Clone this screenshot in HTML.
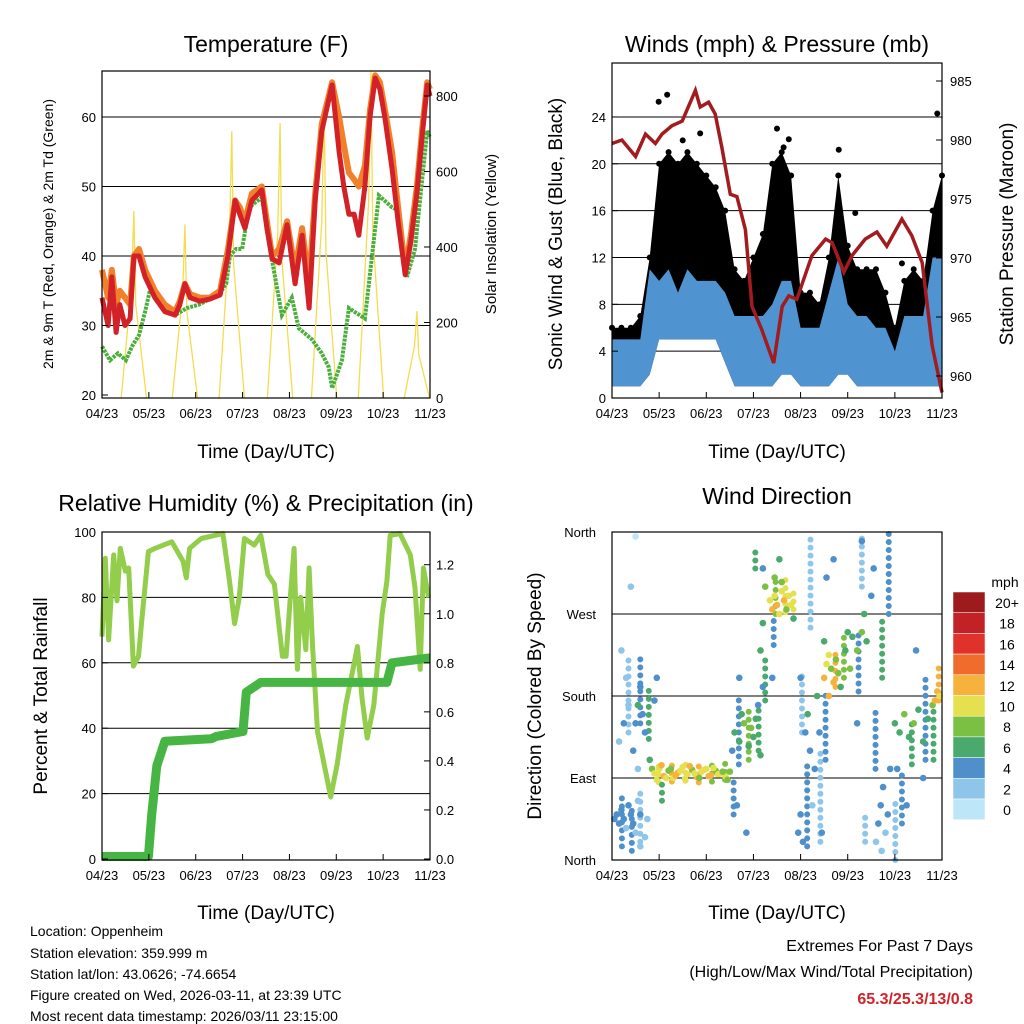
<!DOCTYPE html>
<html><head><meta charset="utf-8"><style>
body{margin:0;background:#fff}
svg{display:block;font-family:"Liberation Sans",sans-serif}
</style></head><body>
<svg id="c" width="1024" height="1024" viewBox="0 0 1024 1024">
<text x="266" y="52" font-size="23" text-anchor="middle">Temperature (F)</text>
<text x="777" y="52" font-size="23" text-anchor="middle">Winds (mph) &amp; Pressure (mb)</text>
<text x="266" y="511" font-size="23" text-anchor="middle">Relative Humidity (%) &amp; Precipitation (in)</text>
<text x="777" y="504" font-size="23" text-anchor="middle">Wind Direction</text>
<text x="266" y="458" font-size="19" text-anchor="middle">Time (Day/UTC)</text>
<text x="777" y="458" font-size="19" text-anchor="middle">Time (Day/UTC)</text>
<text x="266" y="919" font-size="19" text-anchor="middle">Time (Day/UTC)</text>
<text x="777" y="919" font-size="19" text-anchor="middle">Time (Day/UTC)</text>
<text transform="translate(53,234) rotate(-90)" font-size="14" text-anchor="middle">2m &amp; 9m T (Red, Orange) &amp; 2m Td (Green)</text>
<text transform="translate(496,234) rotate(-90)" font-size="15" text-anchor="middle">Solar Insolation (Yellow)</text>
<text transform="translate(562,234) rotate(-90)" font-size="19" text-anchor="middle">Sonic Wind &amp; Gust (Blue, Black)</text>
<text transform="translate(1013,234) rotate(-90)" font-size="19" text-anchor="middle">Station Pressure (Maroon)</text>
<text transform="translate(47,696) rotate(-90)" font-size="19" text-anchor="middle">Percent &amp; Total Rainfall</text>
<text transform="translate(541,696) rotate(-90)" font-size="19" text-anchor="middle">Direction (Colored By Speed)</text>
<g font-size="14">
<text x="30" y="936">Location: Oppenheim</text>
<text x="30" y="958">Station elevation: 359.999 m</text>
<text x="30" y="979">Station lat/lon: 43.0626; -74.6654</text>
<text x="30" y="1000">Figure created on Wed, 2026-03-11, at 23:39 UTC</text>
<text x="30" y="1021">Most recent data timestamp: 2026/03/11 23:15:00</text>
</g>
<g font-size="16" text-anchor="end">
<text x="973" y="951">Extremes For Past 7 Days</text>
<text x="973" y="977">(High/Low/Max Wind/Total Precipitation)</text>
<text x="973" y="1004" fill="#d2232a" font-weight="bold">65.3/25.3/13/0.8</text>
</g>
<text x="1005" y="587" font-size="14" text-anchor="middle">mph</text>
</svg>
<script>
const dayLabels=["04/23","05/23","06/23","07/23","08/23","09/23","10/23","11/23"];
const tempTimes=[0,.13,.21,.30,.38,.49,.60,.68,.79,.92,1.13,1.34,1.56,1.66,1.77,1.88,2.09,2.30,2.52,2.69,2.84,2.94,3.05,3.20,3.41,3.52,3.63,3.78,3.95,4.12,4.27,4.42,4.55,4.69,4.91,5.06,5.16,5.27,5.38,5.48,5.61,5.72,5.83,5.93,6.04,6.19,6.32,6.47,6.59,6.72,6.83,6.94,7];
const tempRed=[34,30,37,29,33,30,31,40,40,37,34,32,31.5,33,36,34,33.5,33.8,34.4,40,48,46,44,48,49.5,44,39.6,39,44.5,36,43,32.5,48,58,64.6,55,50,46,46,43,50,60,65.6,64,59.8,52.6,45,37.3,42,49,57,64.6,63];
const tempOrange=[38,34,38,33,35,34,33,40,41,38,35,33,32,33.5,36,34.5,34,34,35,41,48,47,45,49,50,45,40,41,45,38,44,36,49,59,65,60,56,52,51,50,53,61,66,65,61,55,47,38,43,50,58,65,64];
const tdTimes=[0,.17,.34,.51,.64,.79,.92,1.02,1.24,1.56,1.81,2.07,2.50,2.65,2.73,2.86,2.99,3.14,3.41,3.56,3.84,4.05,4.20,4.48,4.69,4.84,4.91,5.12,5.27,5.61,5.91,6.19,6.34,6.51,6.68,6.94,7];
const tdVals=[27,25,26,25,27,28.6,32,35,33,31.5,32.5,33,34.5,36,40,41,41,47,48.4,42,31.5,34,29.6,28,26,24,21,25,32.5,31,48.7,47,46.5,37,41,58,57];
const solarPeakT=[.68,1.77,2.77,3.80,4.74,5.74,6.72];
const solarPeak=[495,460,707,728,778,866,230];
const presTimes=[0,.21,.50,.71,.92,1.06,1.27,1.49,1.77,1.87,2.05,2.19,2.33,2.51,2.65,2.83,2.97,3.18,3.43,3.61,3.75,3.92,4.24,4.53,4.67,4.92,5.09,5.37,5.62,5.83,6.15,6.36,6.58,6.79,7];
const presVals=[979.7,980,978.6,980.5,979.7,980.5,981.2,981.6,984.2,982.8,983.2,982.2,979.4,975.4,975.2,972.4,965.9,963.9,961.1,965.9,966.8,966.5,970.2,971.6,971.3,968.8,970.2,971.6,972.2,971,973.3,971.9,969.6,962.6,958.6];
const windTimes=[0,.2,.4,.6,.8,1,1.2,1.4,1.6,1.8,2,2.2,2.4,2.6,2.8,3,3.2,3.4,3.6,3.8,4,4.2,4.4,4.6,4.8,5,5.2,5.4,5.6,5.8,6,6.2,6.4,6.6,6.8,7];
const gustHi=[6,6,6,7,12,20,21,20,21,20,19,18,16,11,10,12,14,20,21,19,9,9,8,12,19,13,11,11,11,9,6,10,11,10,16,19];
const windHi=[5,5,5,5,11,10,11,9,11,10,10,10,9,7,7,7,7,8,10,10,6,6,6,9,12,8,7,7,6,6,4,7,7,7,12,12];
const windLo=[1,1,1,1,2,5,5,5,5,5,5,5,3,1,1,1,1,1,2,2,1,1,1,1,2,2,1,1,1,1,1,1,1,1,1,1];
const gustDotT=[.99,1.17,1.87,3.64,3.75,4.81,5.16,6.15,6.9,1.5,2.1,3.5];
const gustDotV=[25.3,25.9,22.6,21.4,22.1,21.2,15.8,11.5,24.3,22,18,23];
const rhTimes=[0,.07,.14,.25,.32,.39,.50,.57,.67,.78,.85,.99,1.13,1.49,1.73,1.80,1.87,2.12,2.58,2.72,2.83,2.93,3.04,3.25,3.39,3.54,3.68,3.85,3.93,4.03,4.10,4.17,4.24,4.35,4.42,4.49,4.60,4.74,4.88,5.02,5.20,5.37,5.45,5.55,5.66,5.80,5.98,6.08,6.15,6.36,6.58,6.68,6.79,6.86,6.97];
const rhVals=[68,92,67,93,79,95,88,89,59,62,73,94,95,97,91,86,95,98,99.5,85,72,80,98,96,99,87,84,62,62,82,95,58,80,64,89,66,39,29,19,29,47,59,65,49,37,47,75,85,99,99.5,93,83,58,89,80];
const precipTimes=[0,.99,1.06,1.17,1.34,2.33,2.44,3.01,3.08,3.39,6.08,6.19,7];
const precipVals=[.01,.01,.18,.38,.48,.49,.50,.52,.68,.72,.72,.80,.82];
const dirTime=[.05,.1,.15,.2,.25,.3,.35,.4,.45,.5,.55,.6,.7,.75,.15,.25,.35,.45,.55,.6,.3,.2,.4,.5,
.5,.55,.6,.65,.7,.8,.85,.9,.95,
.9,1,1.1,1.2,1.3,1.4,1.5,1.6,1.7,1.8,1.9,2,2.1,2.2,2.3,2.4,2.5,.95,1.05,1.15,1.25,1.35,1.45,1.55,1.65,1.75,1.85,1.95,2.05,2.15,2.25,2.35,2.45,
2.55,2.6,2.7,2.75,2.8,2.9,2.95,3,3.05,3.1,3.15,2.65,2.85,2.7,3.2,
3.15,3.2,3.25,3.2,
3.35,3.4,3.45,3.5,3.55,3.6,3.65,3.7,3.75,3.8,3.45,3.6,3.85,3.55,3.4,
3.95,4,4.05,4.1,4.15,4.2,4.25,4.3,4.35,4.4,4.45,4,
4.5,4.55,4.6,4.65,4.7,4.75,4.8,4.85,4.6,4.5,4.55,4.7,
4.95,5,5.05,5.1,5.2,5.3,5.35,5.4,5.5,5.55,5.2,5.3,
5.6,5.65,5.7,5.72,5.75,5.8,5.85,5.9,
6,6.1,6.2,6.3,6.4,6.5,6.6,6.7,6.8,6.85,6.9,6.95,6.05,6.25,6.45,6.6];
const dirDeg=[45,50,40,55,45,35,60,50,40,30,65,50,25,45,130,150,170,120,100,15,200,230,300,355,
150,170,190,160,140,110,100,175,200,
95,100,92,98,90,96,102,94,99,91,97,100,93,98,95,92,97,88,104,90,100,93,98,89,103,95,90,99,92,101,94,97,88,
120,140,130,160,150,125,145,135,155,170,115,60,30,200,190,
230,260,300,320,
285,275,290,280,270,295,285,275,290,280,310,305,265,330,200,
30,50,20,140,160,120,60,100,180,140,30,200,
200,215,225,210,195,220,205,190,180,240,310,330,
230,250,210,245,230,250,270,240,290,320,150,350,
20,40,60,10,80,30,50,100,
150,140,160,135,150,165,130,155,170,175,185,180,100,60,230,90];
const dirSpeed=[3,4,3,3,4,2,3,4,3,2,2,3,2,2,2,3,2,3,2,1,2,1,1,0,
4,5,4,3,4,6,8,4,3,
10,9,11,8,10,12,9,10,8,11,9,10,12,8,9,10,7,9,11,10,8,12,9,10,11,9,8,10,12,9,10,8,7,
4,5,6,5,7,6,8,6,5,4,6,3,4,3,4,
6,5,7,4,
10,11,9,12,10,9,11,8,10,9,7,8,6,6,4,
3,4,3,4,5,3,2,4,5,4,3,3,
12,10,9,8,11,7,7,6,11,6,3,3,
6,5,7,6,8,7,6,5,4,3,4,3,
2,3,3,1,4,2,3,4,
6,5,7,6,8,5,6,5,7,12,11,10,4,3,4,3];
const streakT=[.21,.42,.60,.35,.60,.78,.99,1.27,1.56,1.84,2.12,2.40,1.06,2.58,2.69,2.90,3.11,3.25,3.04,3.47,3.68,3.85,3.43,4.21,4.03,4.14,4.42,4.53,4.74,4.92,5.23,5.37,5.30,5.59,5.73,5.87,6.01,6.15,6.36,6.65,6.82,6.93];
const streakLo=[15,10,20,140,150,133,85,86,87,85,86,88,65,50,105,110,120,175,320,270,272,275,236,255,140,15,20,110,190,200,185,20,300,100,200,270,0,40,105,110,110,175];
const streakHi=[70,60,80,225,225,188,108,110,106,108,104,108,90,90,180,170,170,220,345,310,308,300,269,360,205,110,120,185,230,250,255,55,360,165,265,360,70,100,150,200,170,215];
const streakSpeed=[4,3,2,2,4,6,10,11,9,12,8,7,6,4,4,7,6,6,6,8,9,10,4,2,2,3,2,3,12,8,4,2,2,4,6,4,2,3,6,3,6,12];
const cbLabels=["20+","18","16","14","12","10","8","6","4","2","0"];
const cbColors=["#9d1a1d","#c22126","#e0322b","#f06c2c","#f6b23c","#e5e050","#7cc043","#4aa96c","#4f90cb","#8ec5ea","#bde6f8"];

const S=document.getElementById('c');const NS='http://www.w3.org/2000/svg';
function mk(tag,attrs,name){const el=document.createElementNS(NS,tag);for(const k in attrs)el.setAttribute(k,attrs[k]);


S.appendChild(el);return el;}
function txt(x,y,s,anchor,name,size){const t=mk('text',{x:x,y:y,'font-size':size||13,'text-anchor':anchor},name);t.textContent=s;return t;}
function pts(xs,ys,fx,fy){return xs.map((t,i)=>fx(t).toFixed(1)+','+fy(ys[i]).toFixed(1)).join(' ');}
function xAxis(x0,x1,yb,fx,name){dayLabels.forEach((l,i)=>{const x=fx(i);mk('line',{x1:x,x2:x,y1:yb,y2:yb-6,stroke:'#000'},name+'-tick');txt(x,yb+20,l,'middle',name+'-label');});}
function frame(x0,y0,x1,y1,name){mk('rect',{x:x0,y:y0,width:x1-x0,height:y1-y0,fill:'none',stroke:'#000','stroke-width':1.2},name);}

// Temperature
{const X0=102,X1=430,Y0=71,Y1=398;const fx=t=>X0+t/7*(X1-X0);const fy=v=>395-(v-20)*6.95;const fs=v=>398-v*0.3775;
[30,40,50,60].forEach(v=>mk('line',{x1:X0,x2:X1,y1:fy(v),y2:fy(v),stroke:'#000'},'temp-gridline'));
solarPeakT.forEach((t,i)=>{mk('polyline',{points:`${fx(t-.27)},${fs(0)} ${fx(t-.05)},${fs(solarPeak[i]*0.6)} ${fx(t)},${fs(solarPeak[i])} ${fx(t+.04)},${fs(solarPeak[i]*0.5)} ${fx(t+.27)},${fs(0)}`,fill:'none',stroke:'#f4dc50','stroke-width':1.3},'solar-spike');});
mk('polyline',{points:pts(tdTimes,tdVals,fx,fy),fill:'none',stroke:'#4cae3c','stroke-width':4,'stroke-dasharray':'3 1'},'dewpoint-line');
mk('polyline',{points:pts(tempTimes,tempOrange,fx,fy),fill:'none',stroke:'#f27f29','stroke-width':6,'stroke-linejoin':'round'},'temp-9m-line');
mk('polyline',{points:pts(tempTimes,tempRed,fx,fy),fill:'none',stroke:'#d22127','stroke-width':5,'stroke-linejoin':'round'},'temp-2m-line');
frame(X0,Y0,X1,Y1,'temp-plot-frame');xAxis(X0,X1,Y1,fx,'temp-x');
[20,30,40,50,60].forEach(v=>{mk('line',{x1:X0,x2:X0+6,y1:fy(v),y2:fy(v),stroke:'#000'},'temp-y-tick');txt(X0-6,fy(v)+5,v,'end','temp-y-label');});
[0,200,400,600,800].forEach(v=>{mk('line',{x1:X1,x2:X1-6,y1:fs(v),y2:fs(v),stroke:'#000'},'solar-y-tick');txt(X1+6,fs(v)+5,v,'start','solar-y-label');});}

// Winds
{const X0=612,X1=942,Y0=63,Y1=398;const fx=t=>X0+t/7*(X1-X0);const fy=v=>398-v*11.71;const fp=v=>376-(v-960)*11.8;
[4,8,12,16,20,24].forEach(v=>mk('line',{x1:X0,x2:X1,y1:fy(v),y2:fy(v),stroke:'#000'},'wind-gridline'));
mk('polygon',{points:pts(windTimes,gustHi,fx,fy)+' '+pts(windTimes.slice().reverse(),windLo.slice().reverse(),fx,fy),fill:'#000'},'gust-band');
windTimes.forEach((t,i)=>{mk('circle',{cx:fx(t),cy:fy(gustHi[i]),r:3,fill:'#000'},'gust-point');});
gustDotT.forEach((t,i)=>{mk('circle',{cx:fx(t),cy:fy(gustDotV[i]),r:3,fill:'#000'},'gust-outlier');});
mk('polygon',{points:pts(windTimes,windHi,fx,fy)+' '+pts(windTimes.slice().reverse(),windLo.slice().reverse(),fx,fy),fill:'#4f94d0'},'wind-band');
mk('polyline',{points:pts(presTimes,presVals,fx,fp),fill:'none',stroke:'#a21c1f','stroke-width':3.5},'pressure-line');
frame(X0,Y0,X1,Y1,'winds-plot-frame');xAxis(X0,X1,Y1,fx,'winds-x');
[0,4,8,12,16,20,24].forEach(v=>{mk('line',{x1:X0,x2:X0+6,y1:fy(v),y2:fy(v),stroke:'#000'},'wind-y-tick');txt(X0-6,fy(v)+5,v,'end','wind-y-label');});
[960,965,970,975,980,985].forEach(v=>{mk('line',{x1:X1,x2:X1-6,y1:fp(v),y2:fp(v),stroke:'#000'},'pressure-y-tick');txt(X1+8,fp(v)+5,v,'start','pressure-y-label');});}

// RH
{const X0=102,X1=430,Y0=532,Y1=860;const fx=t=>X0+t/7*(X1-X0);const fy=v=>859-v*3.27;const fr=v=>fy(v*75);
[20,40,60,80].forEach(v=>mk('line',{x1:X0,x2:X1,y1:fy(v),y2:fy(v),stroke:'#000'},'rh-gridline'));
mk('polyline',{points:pts(rhTimes,rhVals,fx,fy),fill:'none',stroke:'#92cd4c','stroke-width':5,'stroke-linejoin':'round'},'rh-line');
mk('polyline',{points:pts(precipTimes,precipVals,fx,fr),fill:'none',stroke:'#47b543','stroke-width':9,'stroke-linejoin':'round'},'precip-line');
frame(X0,Y0,X1,Y1,'rh-plot-frame');xAxis(X0,X1,Y1,fx,'rh-x');
[0,20,40,60,80,100].forEach(v=>{mk('line',{x1:X0,x2:X0+6,y1:fy(v),y2:fy(v),stroke:'#000'},'rh-y-tick');txt(X0-6,fy(v)+5,v,'end','rh-y-label');});
[0,.2,.4,.6,.8,1,1.2].forEach(v=>{mk('line',{x1:X1,x2:X1-6,y1:fr(v),y2:fr(v),stroke:'#000'},'precip-y-tick');txt(X1+6,fr(v)+5,v.toFixed(1),'start','precip-y-label');});}

// Direction
{const X0=612,X1=942,Y0=532,Y1=860;const fx=t=>X0+t/7*(X1-X0);const fy=d=>860-d/360*328;
const col=s=>cbColors[10-Math.min(10,Math.round(s/2))];
[90,180,270].forEach(v=>mk('line',{x1:X0,x2:X1,y1:fy(v),y2:fy(v),stroke:'#000'},'dir-gridline'));
streakT.forEach((t,i)=>{mk('line',{x1:fx(t),x2:fx(t),y1:fy(streakLo[i]),y2:fy(streakHi[i]),stroke:col(streakSpeed[i]),'stroke-width':6,'stroke-linecap':'round','stroke-dasharray':'0 8'},'dir-streak');});
dirTime.forEach((t,i)=>{mk('circle',{cx:fx(t),cy:fy(dirDeg[i]),r:3.3,fill:col(dirSpeed[i])},'dir-point');});
frame(X0,Y0,X1,Y1,'dir-plot-frame');xAxis(X0,X1,Y1,fx,'dir-x');
[[0,'North'],[90,'East'],[180,'South'],[270,'West'],[360,'North']].forEach(a=>{mk('line',{x1:X0,x2:X0+6,y1:fy(a[0]),y2:fy(a[0]),stroke:'#000'},'dir-y-tick');txt(X0-16,fy(a[0])+5,a[1],'end','dir-y-label');});
cbColors.forEach((c,i)=>{const y=592+i*20.7;mk('rect',{x:953,y:y,width:32,height:20.7,fill:c,stroke:'#fff','stroke-width':0.5},'colorbar-box');txt(1007,y+16,cbLabels[i],'middle','colorbar-label',14);});}
</script>
</body></html>
